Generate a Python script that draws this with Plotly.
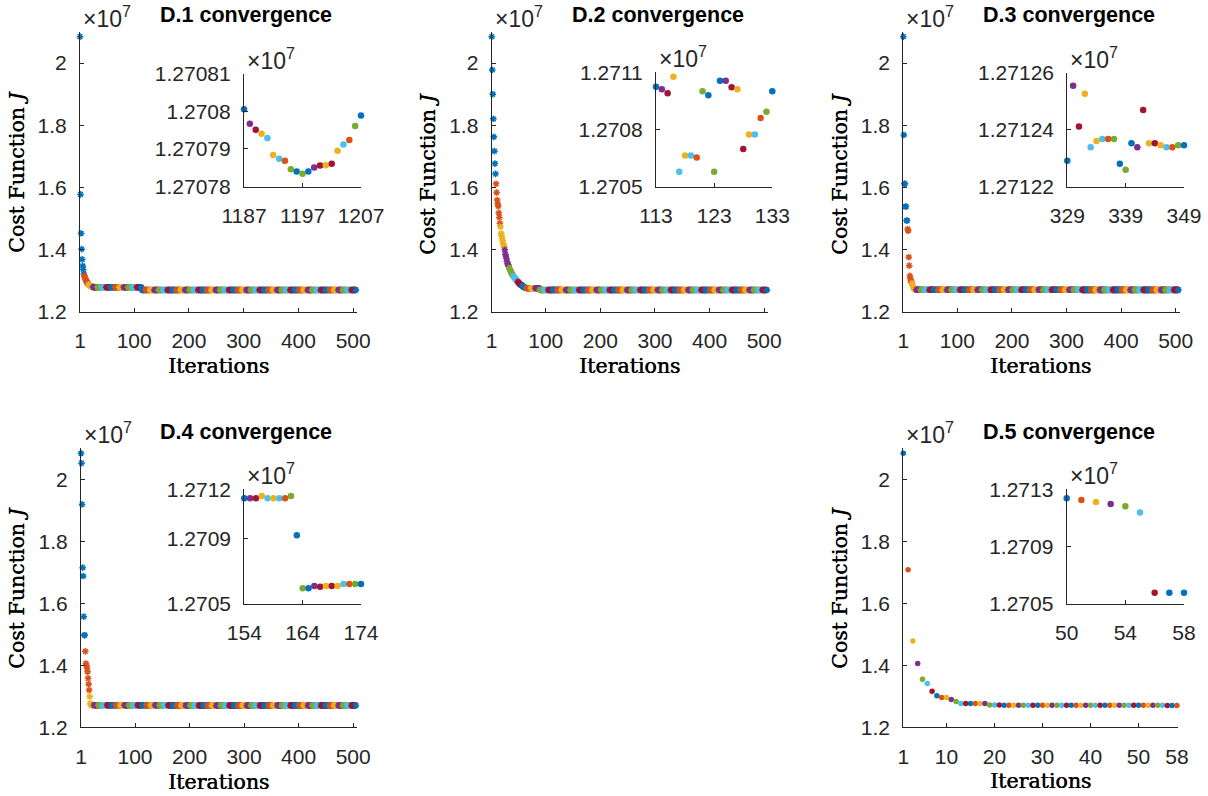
import plotly.graph_objects as go

W, H = 1208, 796

# MATLAB default colour order
PALETTE = ["#0072BD", "#D95319", "#EDB120", "#7E2F8E", "#77AC30", "#4DBEEE", "#A2142F"]
C = dict(zip(["b", "o", "y", "p", "g", "c", "r"], PALETTE))
AXIS_GREY = "#262626"

# ---------------------------------------------------------------- data
# Cost function J, in units of 1e7
d1_iter = list(range(1, 506))
d1_descent = [2.085, 1.578, 1.453, 1.402, 1.369, 1.348, 1.337, 1.322,
              1.316, 1.311, 1.306, 1.302, 1.298, 1.295, 1.292, 1.290,
              1.288, 1.286, 1.285, 1.284, 1.283, 1.282, 1.281, 1.280,
              1.2800, 1.2798, 1.2797, 1.2796, 1.2796, 1.2795, 1.2795, 1.2795]
d1_level_a = 1.2795   # iterations 33-113
d1_level_b = 1.2708   # iterations 114-505
d1_J = d1_descent + [d1_level_a] * 81 + [d1_level_b] * 392

d1_zoom_iter = list(range(1187, 1208))
d1_zoom_J = [1.2708005, 1.2707967, 1.2707951, 1.2707940, 1.2707929, 1.2707884,
             1.2707874, 1.2707869, 1.2707846, 1.2707840, 1.2707834, 1.2707840,
             1.2707851, 1.2707856, 1.2707857, 1.2707861, 1.2707895, 1.2707912,
             1.2707924, 1.2707961, 1.2707989]
d1_zoom_col = ["b", "p", "r", "y", "c", "y", "c", "o", "g", "b", "g",
               "b", "p", "r", "y", "r", "y", "c", "o", "g", "b"]

d2_iter = list(range(1, 506))
d2_descent = [2.085, 1.978, 1.900, 1.821, 1.763, 1.717, 1.677, 1.644,
              1.612, 1.584, 1.560, 1.547, 1.540, 1.519, 1.504, 1.485,
              1.474, 1.452, 1.447, 1.438, 1.429, 1.420, 1.414, 1.409,
              1.400, 1.386, 1.380, 1.372, 1.362, 1.356, 1.352, 1.347,
              1.342, 1.338, 1.334, 1.330, 1.326, 1.323, 1.320, 1.317,
              1.315, 1.312, 1.310, 1.308, 1.306, 1.303, 1.301, 1.299,
              1.297, 1.295, 1.293, 1.291, 1.289, 1.288, 1.287, 1.286,
              1.284, 1.283, 1.281, 1.280, 1.279, 1.278, 1.278, 1.277]
d2_level_a = 1.2765   # iterations 65-88
d2_level_b = 1.2708   # iterations 89-112 and 134-505
d2_zoom_iter = list(range(113, 134))
d2_zoom_J = [1.2710238, 1.2710116, 1.2709905, 1.2710767, 1.2705778, 1.2706640,
             1.2706640, 1.2706534, 1.2710010, 1.2709800, 1.2705778, 1.2710556,
             1.2710556, 1.2710220, 1.2710116, 1.2706980, 1.2707735, 1.2707735,
             1.2708600, 1.2708937, 1.2710010]
d2_zoom_col = ["b", "p", "r", "y", "c", "y", "c", "o", "g", "b", "g",
               "b", "p", "r", "y", "r", "y", "c", "o", "g", "b"]
d2_J = d2_descent + [d2_level_a] * 24 + [d2_level_b] * 24 + d2_zoom_J + [d2_level_b] * 372

d3_iter = list(range(1, 506))
d3_descent = [2.085, 1.769, 1.612, 1.612, 1.539, 1.539, 1.494, 1.494,
              1.466, 1.461, 1.376, 1.349, 1.316, 1.308, 1.300, 1.296,
              1.292, 1.286, 1.281, 1.277, 1.275, 1.273, 1.2725, 1.272]
d3_level_a = 1.2713    # iterations 25-328
d3_level_b = 1.27124   # iterations 350-505
d3_zoom_iter = list(range(329, 350))
d3_zoom_J = [1.2712291, 1.2712555, 1.2712412, 1.2712527, 1.2712339, 1.2712361,
             1.2712368, 1.2712368, 1.2712368, 1.2712281, 1.2712260, 1.2712353,
             1.2712339, 1.2712470, 1.2712353, 1.2712353, 1.2712346, 1.2712339,
             1.2712339, 1.2712346, 1.2712346]
d3_zoom_col = ["b", "p", "r", "y", "c", "y", "c", "o", "g", "b", "g",
               "b", "p", "r", "y", "r", "y", "c", "o", "g", "b"]
d3_J = d3_descent + [d3_level_a] * 304 + d3_zoom_J + [d3_level_b] * 156

d4_iter = list(range(1, 506))
d4_descent = [2.084, 2.052, 1.919, 1.715, 1.688, 1.557, 1.497, 1.497,
              1.445, 1.406, 1.400, 1.391, 1.379, 1.358, 1.339, 1.320,
              1.299, 1.277, 1.2725, 1.272, 1.2715, 1.2713, 1.2712, 1.2712]
d4_level_a = 1.27115   # iterations 25-153
d4_level_b = 1.27062   # iterations 175-505
d4_zoom_iter = list(range(154, 175))
d4_zoom_J = [1.2711446, 1.2711446, 1.2711446, 1.2711587, 1.2711446, 1.2711446,
             1.2711446, 1.2711446, 1.2711587, 1.2709183, 1.2705942, 1.2705942,
             1.2706083, 1.2706040, 1.2706083, 1.2706083, 1.2706083, 1.2706205,
             1.2706205, 1.2706205, 1.2706205]
d4_zoom_col = ["b", "p", "r", "y", "c", "y", "c", "o", "g", "b", "g",
               "b", "p", "r", "y", "r", "y", "c", "o", "g", "b"]
d4_J = d4_descent + [d4_level_a] * 129 + d4_zoom_J + [d4_level_b] * 331

d5_iter = list(range(1, 59))
d5_J = [2.084, 1.708, 1.478, 1.406, 1.355, 1.341, 1.316, 1.302, 1.296, 1.296,
        1.290, 1.283, 1.277, 1.277, 1.277, 1.277, 1.277, 1.277,
        1.2716, 1.2716, 1.2716, 1.2715, 1.2715, 1.2715, 1.2715, 1.2715,
        1.2714, 1.2714, 1.2714, 1.2714, 1.2714, 1.2714, 1.2714, 1.2714,
        1.27135, 1.27135, 1.27135, 1.27133, 1.27133, 1.27132, 1.27131,
        1.2713, 1.2713, 1.27129, 1.27128, 1.27127, 1.27126, 1.27125, 1.27124,
        1.2712368, 1.2712256, 1.2712116, 1.2711975, 1.2711807, 1.2711386,
        1.2705772, 1.2705772, 1.2705772]
d5_zoom_first = 50
d5_zoom_col = ["b", "o", "y", "p", "g", "c", "r", "b", "b"]

# tick labels
main_yticks = [1.2, 1.4, 1.6, 1.8, 2.0]
main_yticktext = ["1.2", "1.4", "1.6", "1.8", "2"]
main_xticks = [1, 100, 200, 300, 400, 500]
d5_xticks = [1, 10, 20, 30, 40, 50, 58]

d1_zoom_yticks = ["1.27078", "1.27079", "1.2708", "1.27081"]
d2_zoom_yticks = ["1.2705", "1.2708", "1.2711"]
d3_zoom_yticks = ["1.27122", "1.27124", "1.27126"]
d4_zoom_yticks = ["1.2705", "1.2709", "1.2712"]
d5_zoom_yticks = ["1.2705", "1.2709", "1.2713"]

titles = ["D.1 convergence", "D.2 convergence", "D.3 convergence",
          "D.4 convergence", "D.5 convergence"]

# ---------------------------------------------------------------- layout helpers
def fx(px):
    return px / W


def fy(py):
    return 1 - py / H


fig = go.Figure()
layout = dict(width=W, height=H, autosize=False,
              margin=dict(l=0, r=0, t=0, b=0, autoexpand=False),
              template="none",
              paper_bgcolor="white", plot_bgcolor="rgba(0,0,0,0)", showlegend=False)
annotations = []
SANS = "Liberation Sans, Arial, sans-serif"
TICKFONT = dict(family=SANS, size=21, color=AXIS_GREY)
EXPFONT = dict(family=SANS, size=23, color=AXIS_GREY)
# axis titles: serif face, thickened slightly with a tight shadow
SERIF = dict(family="DejaVu Serif, serif", size=20.5, color="black",
             shadow="0.5px 0 0 #000")
axis_count = [0]


def add_axes(box, xr, yr, xtv, xtt, ytv, ytt, xstand=10, ystand=8):
    axis_count[0] += 1
    n = axis_count[0]
    sx = "" if n == 1 else str(n)
    x0, x1, y0, y1 = box
    common = dict(showline=True, linecolor=AXIS_GREY, linewidth=1.2, mirror=False,
                  ticks="inside", ticklen=4, tickwidth=1, tickcolor=AXIS_GREY,
                  showgrid=False, zeroline=False, tickfont=TICKFONT, fixedrange=True,
                  automargin=False)
    layout["xaxis" + sx] = dict(common, domain=[fx(x0), fx(x1)], range=xr,
                                anchor="y" + sx, tickmode="array", tickvals=xtv,
                                ticktext=xtt, ticklabelstandoff=xstand)
    layout["yaxis" + sx] = dict(common, domain=[fy(y1), fy(y0)], range=yr,
                                anchor="x" + sx, tickmode="array", tickvals=ytv,
                                ticktext=ytt, ticklabelstandoff=ystand)
    # x10^7 exponent label above the y axis
    annotations.append(dict(text="×10<sup>7</sup>", x=fx(x0 + 1), y=fy(y0 - 15),
                            xref="paper", yref="paper", xanchor="left", yanchor="middle",
                            showarrow=False, font=EXPFONT))
    return "x" + sx, "y" + sx


def block_colours(n, block):
    return [PALETTE[(i // block) % 7] for i in range(n)]


def add_main_star(xa, ya, it, J, block=8):
    cols = block_colours(len(it), block)
    fig.add_trace(go.Scatter(x=it, y=J, xaxis=xa, yaxis=ya, mode="markers", cliponaxis=False,
                             marker=dict(symbol="asterisk-open", size=5.5, color=cols,
                                         line=dict(color=cols, width=1.5)),
                             hoverinfo="skip"))


def add_dots(xa, ya, it, J, cols, size=6.5):
    fig.add_trace(go.Scatter(x=it, y=J, xaxis=xa, yaxis=ya, mode="markers", cliponaxis=False,
                             marker=dict(symbol="circle", size=size, color=cols,
                                         line=dict(width=0)),
                             hoverinfo="skip"))


def add_labels(title_xy, ylab_xy, xlab_xy, title):
    annotations.append(dict(text="<b>" + title + "</b>", x=fx(title_xy[0]), y=fy(title_xy[1]),
                            xref="paper", yref="paper", xanchor="center", yanchor="middle",
                            showarrow=False, font=dict(family=SANS, size=21.5, color="black")))
    annotations.append(dict(text="Cost Function <i>J</i>", x=fx(ylab_xy[0]), y=fy(ylab_xy[1]),
                            xref="paper", yref="paper", xanchor="center", yanchor="middle",
                            textangle=-90, showarrow=False, font=SERIF))
    annotations.append(dict(text="Iterations", x=fx(xlab_xy[0]), y=fy(xlab_xy[1]),
                            xref="paper", yref="paper", xanchor="center", yanchor="middle",
                            showarrow=False, font=SERIF))


main_yr = [1.2, 2.1]
main_xr = [1, 507]
main_xtt = [str(v) for v in main_xticks]

# ---------------------------------------------------------------- D.1
xa, ya = add_axes((80, 357, 32, 312), main_xr, main_yr, main_xticks, main_xtt,
                  main_yticks, main_yticktext)
add_main_star(xa, ya, d1_iter, d1_J)
xa, ya = add_axes((244, 361, 73.5, 186.7), [1187, 1207], [1.27078, 1.27081],
                  [1187, 1197, 1207], ["1187", "1197", "1207"],
                  [float(t) for t in d1_zoom_yticks], d1_zoom_yticks)
add_dots(xa, ya, d1_zoom_iter, d1_zoom_J, [C[k] for k in d1_zoom_col])
add_labels((246, 15), (17, 172), (218, 366), titles[0])

# ---------------------------------------------------------------- D.2
xa, ya = add_axes((491.7, 768, 32, 312), main_xr, main_yr, main_xticks, main_xtt,
                  main_yticks, main_yticktext)
add_main_star(xa, ya, d2_iter, d2_J)
xa, ya = add_axes((656, 772.3, 72.3, 186.7), [113, 133], [1.2705, 1.2711],
                  [113, 123, 133], ["113", "123", "133"],
                  [float(t) for t in d2_zoom_yticks], d2_zoom_yticks)
add_dots(xa, ya, d2_zoom_iter, d2_zoom_J, [C[k] for k in d2_zoom_col])
add_labels((658, 15), (428, 174), (629.5, 366), titles[1])

# ---------------------------------------------------------------- D.3
xa, ya = add_axes((903.3, 1179.5, 32, 312), main_xr, main_yr, main_xticks, main_xtt,
                  main_yticks, main_yticktext)
add_main_star(xa, ya, d3_iter, d3_J)
xa, ya = add_axes((1067.3, 1184, 73, 186.7), [329, 349], [1.27122, 1.27126],
                  [329, 339, 349], ["329", "339", "349"],
                  [float(t) for t in d3_zoom_yticks], d3_zoom_yticks)
add_dots(xa, ya, d3_zoom_iter, d3_zoom_J, [C[k] for k in d3_zoom_col])
add_labels((1069, 15), (840, 174), (1040, 366), titles[2])

# ---------------------------------------------------------------- D.4
xa, ya = add_axes((81, 357, 448.3, 727.3), main_xr, main_yr, main_xticks, main_xtt,
                  main_yticks, main_yticktext)
add_main_star(xa, ya, d4_iter, d4_J)
xa, ya = add_axes((244.3, 361, 489.3, 603.7), [154, 174], [1.2705, 1.2712],
                  [154, 164, 174], ["154", "164", "174"],
                  [float(t) for t in d4_zoom_yticks], d4_zoom_yticks)
add_dots(xa, ya, d4_zoom_iter, d4_zoom_J, [C[k] for k in d4_zoom_col])
add_labels((246, 432), (17, 588), (218, 782), titles[3])

# ---------------------------------------------------------------- D.5
xa, ya = add_axes((903.3, 1177.9, 448.3, 727.3), [1, 58.2], main_yr, d5_xticks,
                  [str(v) for v in d5_xticks], main_yticks, main_yticktext)
add_dots(xa, ya, d5_iter, d5_J, block_colours(len(d5_iter), 1), size=5.5)
xa, ya = add_axes((1066.7, 1184, 489.3, 603.7), [50, 58], [1.2705, 1.2713],
                  [50, 54, 58], ["50", "54", "58"],
                  [float(t) for t in d5_zoom_yticks], d5_zoom_yticks)
k0 = d5_zoom_first - 1
add_dots(xa, ya, d5_iter[k0:], d5_J[k0:], [C[k] for k in d5_zoom_col])
add_labels((1069, 432), (840, 588), (1040, 781), titles[4])

layout["annotations"] = annotations
fig.update_layout(**layout)
fig.write_html("out.html")
